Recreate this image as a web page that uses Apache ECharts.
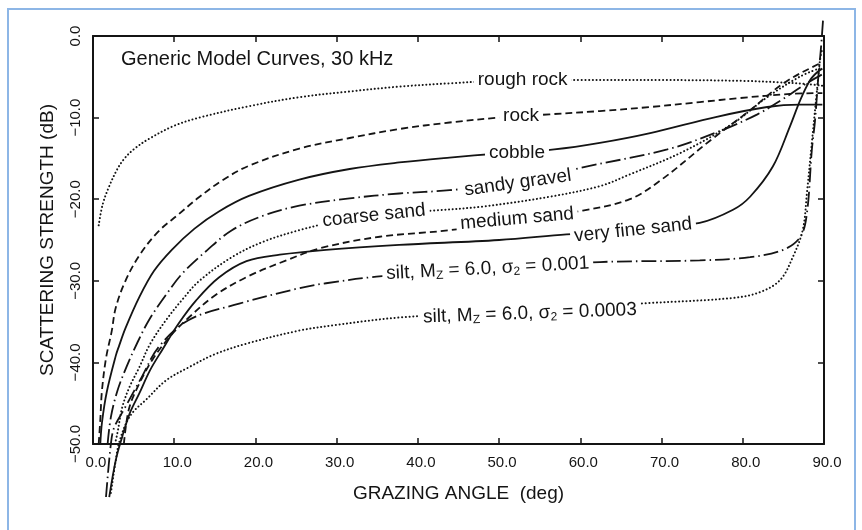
<!DOCTYPE html>
<html>
<head>
<meta charset="utf-8">
<script src="https://cdn.jsdelivr.net/npm/echarts@6/dist/echarts.min.js"></script>
<style>
html,body{margin:0;padding:0;background:#fff;}
#chart{width:862px;height:530px;}
</style>
</head>
<body>
<div id="chart"></div>
<script>
// ---- data: [grazing angle (deg), scattering strength (dB)] ----
const roughRock = [[0.7,-23.2],[1.2,-20.6],[2.0,-18.4],[3.0,-16.3],[3.8,-15.1],[5.0,-13.9],[6.9,-12.6],[10.0,-11.0],[13.1,-10.0],[19.2,-8.6],[25.4,-7.5],[31.6,-6.8],[37.7,-6.2],[43.9,-5.8],[50,-5.5],[60,-5.4],[70,-5.4],[80,-5.5],[85,-5.7],[88,-5.9],[89.8,-6.1]];
const rock = [[0.7,-50],[0.9,-47],[1.1,-43.5],[1.6,-39.5],[2.3,-36.2],[2.8,-33.3],[4.0,-30.0],[5.7,-26.9],[8.0,-24.0],[10.6,-21.8],[13.0,-19.8],[15.9,-17.7],[19.2,-15.9],[25.4,-13.8],[31.6,-12.5],[37.7,-11.4],[43.9,-10.6],[50,-10.0],[56.2,-9.6],[62.4,-9.2],[68.6,-8.7],[74.7,-8.1],[79.7,-7.6],[85.8,-7.1],[89.8,-7.0]];
const cobble = [[0.9,-50],[1.1,-47.4],[1.7,-43.6],[2.8,-39.2],[3.2,-38.0],[4.0,-35.8],[5.7,-32.0],[7.5,-28.8],[9.7,-26.2],[12.5,-23.6],[15.5,-21.5],[19.2,-19.6],[25.4,-17.6],[31.6,-16.3],[37.7,-15.5],[43.9,-14.9],[50,-14.4],[56.8,-13.9],[62.4,-13.1],[68.6,-11.9],[76.8,-9.9],[83,-8.7],[87,-8.4],[89.8,-8.4]];
const sandyGravel = [[1.8,-50],[2.2,-46.7],[3.0,-43.5],[4.1,-40.6],[5.5,-37.5],[6.9,-34.8],[9.0,-31.7],[11.0,-29.1],[14.0,-26.3],[17.1,-23.8],[21.0,-22.0],[25.4,-20.8],[31.6,-19.9],[37.7,-19.3],[43.9,-18.9],[52,-18.0],[60.3,-16.1],[70.7,-13.9],[76.8,-11.8],[81.8,-9.6],[85,-7.7],[87.7,-5.9],[89.8,-4.7]];
const coarseSand = [[2.7,-50],[3.0,-48.7],[3.6,-45.5],[4.5,-43.0],[5.7,-40.6],[7.0,-37.8],[9.0,-34.8],[11.0,-32.3],[13.1,-30.0],[17.1,-27.1],[21.0,-25.2],[25.4,-23.8],[30,-22.7],[34.6,-22.0],[41.8,-21.4],[48,-20.9],[56.2,-19.7],[62.4,-18.4],[66,-17.0],[72.6,-14.2],[78.8,-10.7],[83,-7.5],[87,-5.0],[89.6,-3.9]];
const mediumSand = [[3.8,-50],[4.4,-45.8],[5.5,-43.0],[7.3,-39.7],[9.5,-36.8],[11.8,-34.5],[15,-31.8],[19,-29.5],[23.8,-27.5],[28,-26.0],[35.3,-24.6],[43.9,-23.8],[52,-22.6],[60.3,-21.4],[66.1,-20.0],[70,-17.6],[76,-12.8],[80.9,-9.1],[85,-5.8],[89.2,-3.5],[89.8,-3.4]];
const veryFineSand = [[2.0,-56.5],[2.8,-52.0],[3.6,-49.1],[4.5,-46.3],[5.7,-43.8],[7.0,-41.0],[8.5,-38.5],[10.5,-35.3],[12.7,-32.4],[15.5,-29.6],[18.9,-27.6],[23,-26.8],[28.7,-26.2],[37.7,-25.6],[50,-25.0],[58.3,-24.3],[66,-23.8],[74.7,-22.9],[78.8,-21.3],[80.9,-19.7],[83.7,-16.0],[85.8,-11.1],[87.1,-7.8],[88.3,-5.4],[89.2,-4.4],[89.8,-4.0]];
const siltA = [[1.6,-56.5],[2.2,-50.0],[2.6,-48.0],[3.8,-45.8],[6.0,-41.8],[8.1,-38.1],[11.8,-34.8],[18,-32.8],[25.4,-30.9],[28.7,-30.3],[34.9,-29.5],[48,-28.5],[62.4,-27.7],[74.7,-27.5],[80.9,-27.1],[85,-26.2],[87.1,-24.6],[87.9,-21.7],[88.5,-14.0],[88.9,-10.3],[89.3,-5.0],[89.6,-1.8],[89.9,2.2]];
const siltB = [[2.2,-56.0],[2.8,-52.0],[3.2,-49.9],[4.1,-47.4],[5.0,-46.0],[6.5,-44.6],[9.0,-42.2],[11.8,-40.6],[15,-39.0],[18.9,-37.7],[25.4,-36.1],[30,-35.4],[37.7,-34.5],[53.8,-33.5],[68.9,-32.7],[78.8,-32.1],[82.1,-31.4],[84.6,-29.9],[86.2,-27.0],[87.4,-23.7],[87.9,-19.2],[88.5,-13.1],[89.1,-7.0],[89.5,-3.0],[89.8,-1.5]];

const curveLabels = ['rough rock','rock','cobble','sandy gravel','coarse sand','medium sand','very fine sand',
  'silt, M{s|Z} = 6.0, σ{s|2} = 0.001','silt, M{s|Z} = 6.0, σ{s|2} = 0.0003'];
const labelAngles = [52.9,52.7,52.2,52.3,34.6,52.2,66.5,48.6,53.8];
const labelValues = [-5.4,-9.8,-14.3,-18.0,-22.0,-22.4,-23.8,-28.5,-34.0];
const labelTilts = [0,0,0,8,6,5,6,3,2];

const xTicks = [0,10,20,30,40,50,60,70,80,90];
const yTicks = [0,-10,-20,-30,-40,-50];

const INK = '#141414';
const DOT = {type:[0.1,3.6], cap:'round', width:2};
const DASH = {type:[7,4], width:1.8};
const DASHDOT = {type:[15,4,1.5,4], width:1.8};
const SOLID = {type:'solid', width:1.8};

function curve(name, data, style){
  return {name, type:'line', data, symbol:'none', smooth:0.35, clip:false, z:2,
    lineStyle:Object.assign({color:INK}, style), silent:true};
}

const chart = echarts.init(document.getElementById('chart'), null, {renderer:'canvas'});
const fontFam = '"Liberation Sans", Arial, sans-serif';

chart.setOption({
  animation:false,
  backgroundColor:'#fff',
  title:{text:'Generic Model Curves, 30 kHz', left:121, top:49, padding:0,
    textStyle:{fontSize:20, fontWeight:'normal', color:INK, fontFamily:fontFam}},
  graphic:[{type:'rect', shape:{x:8, y:9, width:847, height:600},
    style:{fill:null, stroke:'#8db6e6', lineWidth:2}, silent:true}],
  grid:{left:93, right:38, top:36, bottom:86, containLabel:false},
  xAxis:[
    {type:'value', min:0, max:90, interval:10, position:'bottom',
     axisLine:{show:true, onZero:false, lineStyle:{color:INK, width:2}},
     axisTick:{show:true, inside:true, length:6, lineStyle:{color:INK, width:1.5}},
     splitLine:{show:false},
     axisLabel:{show:true, margin:11, color:INK, fontSize:15, fontFamily:fontFam,
       padding:[0,0,0,6], formatter:v=>v.toFixed(1)},
     name:'GRAZING ANGLE  (deg)', nameLocation:'middle', nameGap:40,
     nameTextStyle:{fontSize:19, color:INK, fontFamily:fontFam}},
    {type:'value', min:0, max:90, interval:10, position:'top',
     axisLine:{show:true, onZero:false, lineStyle:{color:INK, width:2}},
     axisTick:{show:true, inside:true, length:6, lineStyle:{color:INK, width:1.5}},
     splitLine:{show:false}, axisLabel:{show:false}}
  ],
  yAxis:[
    {type:'value', min:-50, max:0, interval:10, position:'left',
     axisLine:{show:true, onZero:false, lineStyle:{color:INK, width:2}},
     axisTick:{show:true, inside:true, length:6, lineStyle:{color:INK, width:1.5}},
     splitLine:{show:false},
     axisLabel:{show:true, rotate:90, margin:10, color:INK, fontSize:15, fontFamily:fontFam,
       formatter:v=> v===0 ? '0.0' : '\u2212' + (-v).toFixed(1)},
     name:'SCATTERING STRENGTH (dB)', nameLocation:'middle', nameGap:36, nameRotate:90,
     nameTextStyle:{fontSize:19, color:INK, fontFamily:fontFam}},
    {type:'value', min:-50, max:0, interval:10, position:'right',
     axisLine:{show:true, onZero:false, lineStyle:{color:INK, width:2}},
     axisTick:{show:true, inside:true, length:6, lineStyle:{color:INK, width:1.5}},
     splitLine:{show:false}, axisLabel:{show:false}}
  ],
  series:[
    curve('rough rock', roughRock, DOT),
    curve('rock', rock, DASH),
    curve('cobble', cobble, SOLID),
    curve('sandy gravel', sandyGravel, DASHDOT),
    curve('coarse sand', coarseSand, DOT),
    curve('medium sand', mediumSand, DASH),
    curve('very fine sand', veryFineSand, SOLID),
    curve('silt 0.001', siltA, DASHDOT),
    curve('silt 0.0003', siltB, DOT),
    {type:'scatter', symbolSize:0, z:5, silent:true, clip:false,
     itemStyle:{opacity:1, color:INK},
     data: curveLabels.map((t,i)=>({value:[labelAngles[i], labelValues[i]],
        label:{formatter:t, rotate:labelTilts[i]}})),
     label:{show:true, position:'inside', color:INK, opacity:1, fontSize:19, fontFamily:fontFam,
       backgroundColor:'#fff', padding:[0,4], lineHeight:22,
       rich:{s:{fontSize:12, padding:[9,0,0,0], color:INK, fontFamily:fontFam}}}}
  ]
});
</script>
</body>
</html>
